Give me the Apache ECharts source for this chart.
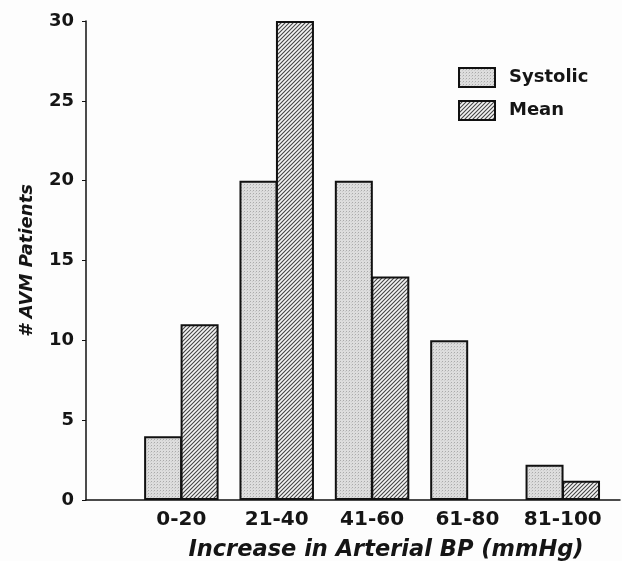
<!DOCTYPE html>
<html>
<head>
<meta charset="utf-8">
<script src="https://cdn.jsdelivr.net/npm/echarts@6/dist/echarts.min.js"></script>
<style>
html,body{margin:0;padding:0;background:#fdfdfd;}
#c{width:622px;height:561px;}
</style>
</head>
<body>
<div id="c"></div>
<script>
const categories = ['0-20', '21-40', '41-60', '61-80', '81-100'];
const systolic = [4, 20, 20, 10, 2.2];
const mean = [11, 30, 14, 0, 1.2];
const yTicks = [0, 5, 10, 15, 20, 25, 30];

function makeHatch() {
  const c = document.createElement('canvas');
  c.width = 4; c.height = 4;
  const g = c.getContext('2d');
  g.fillStyle = '#f4f4f4';
  g.fillRect(0, 0, 4, 4);
  g.strokeStyle = '#444';
  g.lineWidth = 1.1;
  g.beginPath();
  g.moveTo(-1, 5); g.lineTo(5, -1);
  g.moveTo(-1, 1); g.lineTo(1, -1);
  g.moveTo(3, 5); g.lineTo(5, 3);
  g.stroke();
  return c;
}
function makeStipple() {
  const c = document.createElement('canvas');
  c.width = 3; c.height = 3;
  const g = c.getContext('2d');
  g.fillStyle = '#dddddd';
  g.fillRect(0, 0, 3, 3);
  g.fillStyle = '#aaaaaa';
  g.fillRect(1, 1, 1, 1);
  g.fillStyle = '#cbcbcb';
  g.fillRect(0, 2, 1, 1);
  return c;
}

const hatch = { image: makeHatch(), repeat: 'repeat' };
const stipple = { image: makeStipple(), repeat: 'repeat' };

function toData(arr) {
  return arr.map((v, i) => v > 0 ? [i, v] : null).filter(d => d);
}

const chart = echarts.init(document.getElementById('c'));
const boldFont = 'DejaVu Sans';
chart.setOption({
  backgroundColor: '#fdfdfd',
  animation: false,
  grid: { left: 86, right: 2, top: 21, bottom: 61, containLabel: false, outerBoundsMode: 'none' },
  legend: {
    orient: 'vertical',
    left: 458, top: 67, padding: 0,
    itemWidth: 36, itemHeight: 19, itemGap: 12,
    icon: 'rect',
    textStyle: { fontFamily: boldFont, fontWeight: 'bold', fontSize: 18, color: '#151515', padding: [0, 0, 0, 9] },
    data: ['Systolic', 'Mean']
  },
  xAxis: {
    type: 'value',
    min: -1, max: 4.6, interval: 1,
    splitLine: { show: false },
    axisTick: { show: false },
    axisLine: { show: true, onZero: false, lineStyle: { color: '#111', width: 1.5 } },
    axisLabel: {
      margin: 10,
      fontFamily: boldFont, fontWeight: 'bold', fontSize: 20, color: '#151515',
      showMinLabel: true, showMaxLabel: true,
      formatter: v => (Number.isInteger(v) && v >= 0 && v < categories.length) ? categories[v] : ''
    },
    name: 'Increase in Arterial BP (mmHg)',
    nameLocation: 'middle',
    nameGap: 39,
    nameTextStyle: { fontFamily: boldFont, fontWeight: 'bold', fontStyle: 'italic', fontSize: 22.5, color: '#151515', padding: [0, 0, 0, 66] }
  },
  yAxis: {
    type: 'value',
    min: 0, max: 30, interval: 5,
    splitLine: { show: false },
    axisLine: { show: true, onZero: false, lineStyle: { color: '#111', width: 1.5 } },
    axisTick: { show: true, length: 4, lineStyle: { color: '#111', width: 1 } },
    axisLabel: {
      margin: 12,
      fontFamily: boldFont, fontWeight: 'bold', fontSize: 18, color: '#151515',
      formatter: v => yTicks.includes(v) ? String(v) : ''
    },
    name: '# AVM Patients',
    nameLocation: 'middle',
    nameGap: 50,
    nameRotate: 90,
    nameTextStyle: { fontFamily: boldFont, fontWeight: 'bold', fontStyle: 'italic', fontSize: 18, color: '#151515' }
  },
  series: [
    {
      name: 'Systolic', type: 'bar',
      data: toData(systolic),
      barWidth: 38, barGap: '-4%',
      itemStyle: { color: stipple, borderColor: '#111', borderWidth: 2 }
    },
    {
      name: 'Mean', type: 'bar',
      data: toData(mean),
      barWidth: 38, barGap: '-4%',
      itemStyle: { color: hatch, borderColor: '#111', borderWidth: 2 }
    }
  ]
});
</script>
</body>
</html>
